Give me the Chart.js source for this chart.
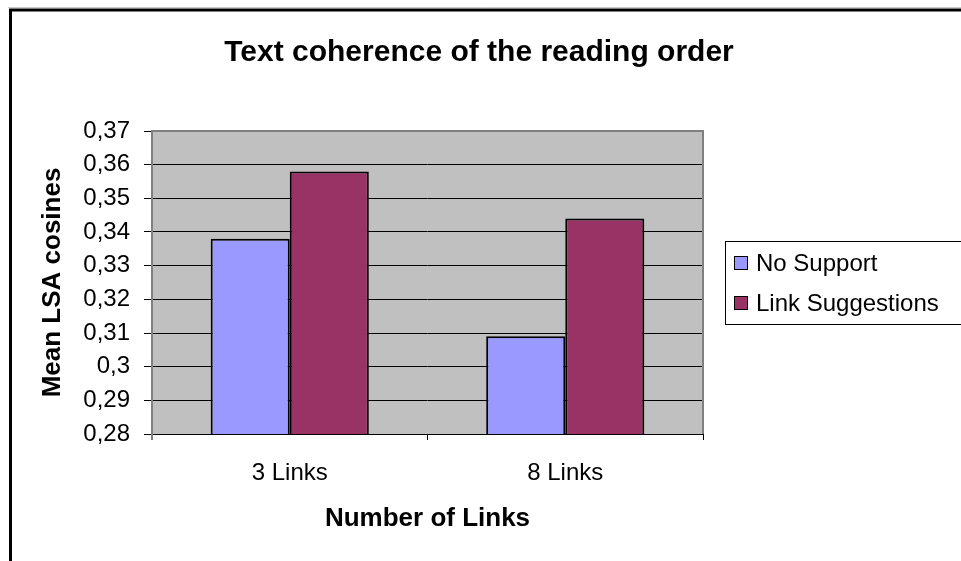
<!DOCTYPE html>
<html>
<head>
<meta charset="utf-8">
<script src="https://cdn.jsdelivr.net/npm/chart.js@4"></script>
<style>
  html, body { margin: 0; padding: 0; background: #ffffff; }
  #wrap { width: 961px; height: 561px; }
</style>
</head>
<body>
<div id="wrap"><canvas id="c" width="961" height="561"></canvas></div>
<script>
// ---- data ----
const categories = ['3 Links', '8 Links'];
const seriesNames = ['No Support', 'Link Suggestions'];
const noSupport = [0.338, 0.309];
const linkSuggestions = [0.358, 0.344];
const yTickLabels = ['0,28', '0,29', '0,3', '0,31', '0,32', '0,33', '0,34', '0,35', '0,36', '0,37'];
const titleText = 'Text coherence of the reading order';
const xTitle = 'Number of Links';
const yTitle = 'Mean LSA cosines';

const FONT = '"Liberation Sans", Arial, sans-serif';
Chart.defaults.font.family = FONT;
Chart.defaults.color = '#000000';

const colors = ['#9999FF', '#993366'];

const plotBg = {
  id: 'plotBg',
  beforeDraw(chart) {
    const { ctx, chartArea: a } = chart;
    ctx.save();
    ctx.fillStyle = '#ffffff';
    ctx.fillRect(0, 0, chart.width, chart.height);
    // outer frame
    ctx.strokeStyle = '#c8c8c8';
    ctx.lineWidth = 1;
    ctx.beginPath();
    ctx.moveTo(8, 7.5); ctx.lineTo(961, 7.5);
    ctx.stroke();
    ctx.strokeStyle = '#000000';
    ctx.lineWidth = 3;
    ctx.beginPath();
    ctx.moveTo(10.5, 561); ctx.lineTo(10.5, 10); ctx.lineTo(961, 10);
    ctx.stroke();
    // plot area fill
    ctx.fillStyle = '#C0C0C0';
    ctx.fillRect(a.left, a.top, a.right - a.left, a.bottom - a.top);
    ctx.restore();
  },
  beforeDatasetsDraw(chart) {
    const { ctx, chartArea: a } = chart;
    ctx.save();
    ctx.strokeStyle = '#808080';
    ctx.lineWidth = 2;
    ctx.beginPath();
    ctx.moveTo(a.left, a.bottom + 6);
    ctx.lineTo(a.left, a.top);
    ctx.lineTo(a.right, a.top);
    ctx.lineTo(a.right, a.bottom);
    ctx.stroke();
    ctx.restore();
  },
  afterDraw(chart) {
    const { ctx } = chart;
    ctx.save();
    // legend box
    ctx.strokeStyle = '#000000';
    ctx.lineWidth = 1;
    ctx.fillStyle = '#ffffff';
    ctx.fillRect(725.5, 241.5, 250, 83);
    ctx.strokeRect(725.5, 241.5, 250, 83);
    ctx.font = '24px ' + FONT;
    ctx.textBaseline = 'middle';
    ctx.textAlign = 'left';
    const ys = [263, 303];
    chart.data.datasets.forEach((ds, i) => {
      ctx.fillStyle = ds.backgroundColor;
      ctx.fillRect(734.5, ys[i] - 6.5, 13, 13);
      ctx.strokeRect(734.5, ys[i] - 6.5, 13, 13);
      ctx.fillStyle = '#000000';
      ctx.fillText(ds.label, 756, ys[i] + 1);
    });
    ctx.restore();
  }
};

new Chart(document.getElementById('c'), {
  type: 'bar',
  data: {
    labels: categories,
    datasets: [
      { label: seriesNames[0], data: noSupport, backgroundColor: colors[0], borderColor: '#000000', borderWidth: 2, categoryPercentage: 0.574, barPercentage: 1.0 },
      { label: seriesNames[1], data: linkSuggestions, backgroundColor: colors[1], borderColor: '#000000', borderWidth: 2, categoryPercentage: 0.574, barPercentage: 1.0 }
    ]
  },
  options: {
    responsive: false,
    animation: false,
    devicePixelRatio: 1,
    layout: { padding: { left: 12, top: 12, right: 15, bottom: 0 } },
    plugins: {
      legend: { display: false },
      tooltip: { enabled: false },
      title: {
        display: true,
        text: titleText,
        font: { size: 30, weight: 'bold', family: FONT },
        color: '#000000',
        padding: { top: 23, bottom: 60 }
      }
    },
    scales: {
      x: {
        offset: true,
        grid: { display: true, drawOnChartArea: false, drawTicks: true, tickLength: 6, color: '#000000', tickColor: '#000000', offset: true },
        border: { display: true, color: '#000000', width: 1 },
        ticks: { font: { size: 24, family: FONT }, color: '#000000', padding: 19, maxRotation: 0 },
        title: { display: true, text: xTitle, font: { size: 26, weight: 'bold', family: FONT }, color: '#000000', padding: { top: 0, bottom: 27 } },
        afterFit(scale) { scale.height = 127; }
      },
      y: {
        min: 0.28,
        max: 0.37,
        ticks: {
          stepSize: 0.01,
          font: { size: 24, family: FONT },
          color: '#000000',
          padding: 14,
          callback(value, index) { return yTickLabels[index]; }
        },
        grid: { color: '#000000', tickColor: '#000000', tickLength: 8, lineWidth: 1 },
        border: { display: false },
        title: { display: true, text: yTitle, font: { size: 26, weight: 'bold', family: FONT }, color: '#000000', padding: { top: 25, bottom: 0 } },
        afterFit(scale) { scale.width = 140; }
      },
      legendSpace: {
        type: 'linear',
        position: 'right',
        display: true,
        ticks: { display: false },
        grid: { display: false, drawTicks: false },
        border: { display: false },
        title: { display: false },
        afterFit(scale) { scale.width = 243; }
      }
    }
  },
  plugins: [plotBg]
});
</script>
</body>
</html>
